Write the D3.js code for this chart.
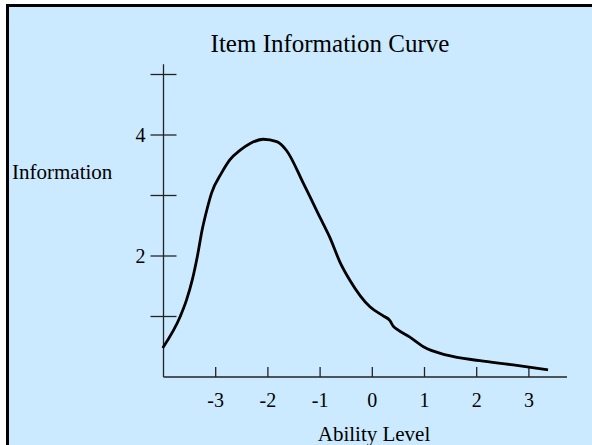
<!DOCTYPE html>
<html>
<head>
<meta charset="utf-8">
<script src="https://cdnjs.cloudflare.com/ajax/libs/d3/7.8.5/d3.min.js"></script>
<style>
    html, body { margin: 0; padding: 0; background: #fff; }
    svg { display: block; }
    text { font-family: "Liberation Serif", "Times New Roman", serif; fill: #000; }
</style>
</head>
<body>
<div id="chart"></div>
<script>
// 数据
var abilityLevel = [-4.0, -3.68, -3.56, -3.45, -3.35, -3.26, -3.17, -3.08, -2.89, -2.73, -2.53, -2.34, -2.09, -1.83, -1.64, -1.32, -0.98, -0.81, -0.62, -0.43, -0.045, 0.21, 0.34, 0.40, 0.47, 0.72, 0.98, 1.43, 2.06, 2.7, 3.34];
var information = [0.5, 1.0, 1.27, 1.6, 2.0, 2.43, 2.76, 3.04, 3.37, 3.59, 3.75, 3.86, 3.93, 3.89, 3.74, 3.2, 2.6, 2.3, 1.9, 1.6, 1.16, 1.01, 0.93, 0.84, 0.79, 0.66, 0.5, 0.36, 0.27, 0.2, 0.12];
var xTicks = [-3, -2, -1, 0, 1, 2, 3];
var yTicks = [1, 2, 3, 4, 5];
var yTickLabels = {2: "2", 4: "4"};

class InfoCurve {
    //参数说明
    //option {}
    // width,height,ele,title
    constructor(option) {
        for (let [key, value] of Object.entries(option)) {
            this[key] = value;
        }
        this.svg = null;
        this.x = d3.scaleLinear().domain([-4, 3]).range([163.5, 528.9]);
        this.y = d3.scaleLinear().domain([0, 5]).range([377, 74.5]);
        this.creatSvg();
        this.creatAxis();
        this.creatLine();
        this.creatText();
    }
    creatSvg() {
        this.svg = d3.select(this.ele)
            .append('svg')
            .attr("width", this.width)
            .attr("height", this.height);
        // 背景框
        this.svg.append('rect')
            .attr('x', 7.5)
            .attr('y', 5.5)
            .attr('width', this.width + 10)
            .attr('height', this.height + 10)
            .attr('fill', '#cbeaff')
            .attr('stroke', '#000')
            .attr('stroke-width', 3);
    }
    creatAxis() {
        var x = this.x, y = this.y;
        var g = this.svg.append('g')
            .attr('stroke', '#222')
            .attr('stroke-width', 1.3);

        // y 轴
        g.append('line')
            .attr('x1', x(-4)).attr('x2', x(-4))
            .attr('y1', y(0)).attr('y2', y(5.17));
        g.selectAll('.ytick')
            .data(yTicks)
            .enter().append('line')
            .attr('class', 'ytick')
            .attr('x1', x(-4) - 13).attr('x2', x(-4) + 13)
            .attr('y1', d => y(d)).attr('y2', d => y(d));

        // x 轴
        g.append('line')
            .attr('x1', x(-4)).attr('x2', x(3.73))
            .attr('y1', y(0)).attr('y2', y(0));
        g.selectAll('.xtick')
            .data(xTicks)
            .enter().append('line')
            .attr('class', 'xtick')
            .attr('x1', d => x(d)).attr('x2', d => x(d))
            .attr('y1', y(0)).attr('y2', y(0) - 10);

        this.svg.append('g')
            .selectAll('text')
            .data(xTicks)
            .enter().append('text')
            .attr('x', d => x(d))
            .attr('y', y(0) + 30)
            .attr('text-anchor', 'middle')
            .attr('font-size', 20)
            .text(d => d);

        this.svg.append('g')
            .selectAll('text')
            .data(yTicks.filter(d => yTickLabels[d]))
            .enter().append('text')
            .attr('x', x(-4) - 18)
            .attr('y', d => y(d) + 7)
            .attr('text-anchor', 'end')
            .attr('font-size', 20)
            .text(d => yTickLabels[d]);
    }
    creatLine() {
        var x = this.x, y = this.y;
        var pts = abilityLevel.map((d, i) => [d, information[i]]);
        var line = d3.line()
            .x(d => x(d[0]))
            .y(d => y(d[1]))
            .curve(d3.curveMonotoneX);
        this.svg.append('path')
            .datum(pts)
            .attr('d', line)
            .attr('fill', 'none')
            .attr('stroke', '#000')
            .attr('stroke-width', 2.8)
            .attr('stroke-linecap', 'square');
    }
    creatText() {
        this.svg.append('text')
            .attr('x', 330)
            .attr('y', 52)
            .attr('text-anchor', 'middle')
            .attr('font-size', 25)
            .text(this.title);
        this.svg.append('text')
            .attr('x', 12)
            .attr('y', 179)
            .attr('font-size', 21)
            .text(this.yLabel);
        this.svg.append('text')
            .attr('x', 374)
            .attr('y', 440.5)
            .attr('text-anchor', 'middle')
            .attr('font-size', 21)
            .text(this.xLabel);
    }
}

var chart = new InfoCurve({
    ele: document.getElementById('chart'),
    width: 592,
    height: 445,
    title: "Item Information Curve",
    xLabel: "Ability Level",
    yLabel: "Information"
});
</script>
</body>
</html>
